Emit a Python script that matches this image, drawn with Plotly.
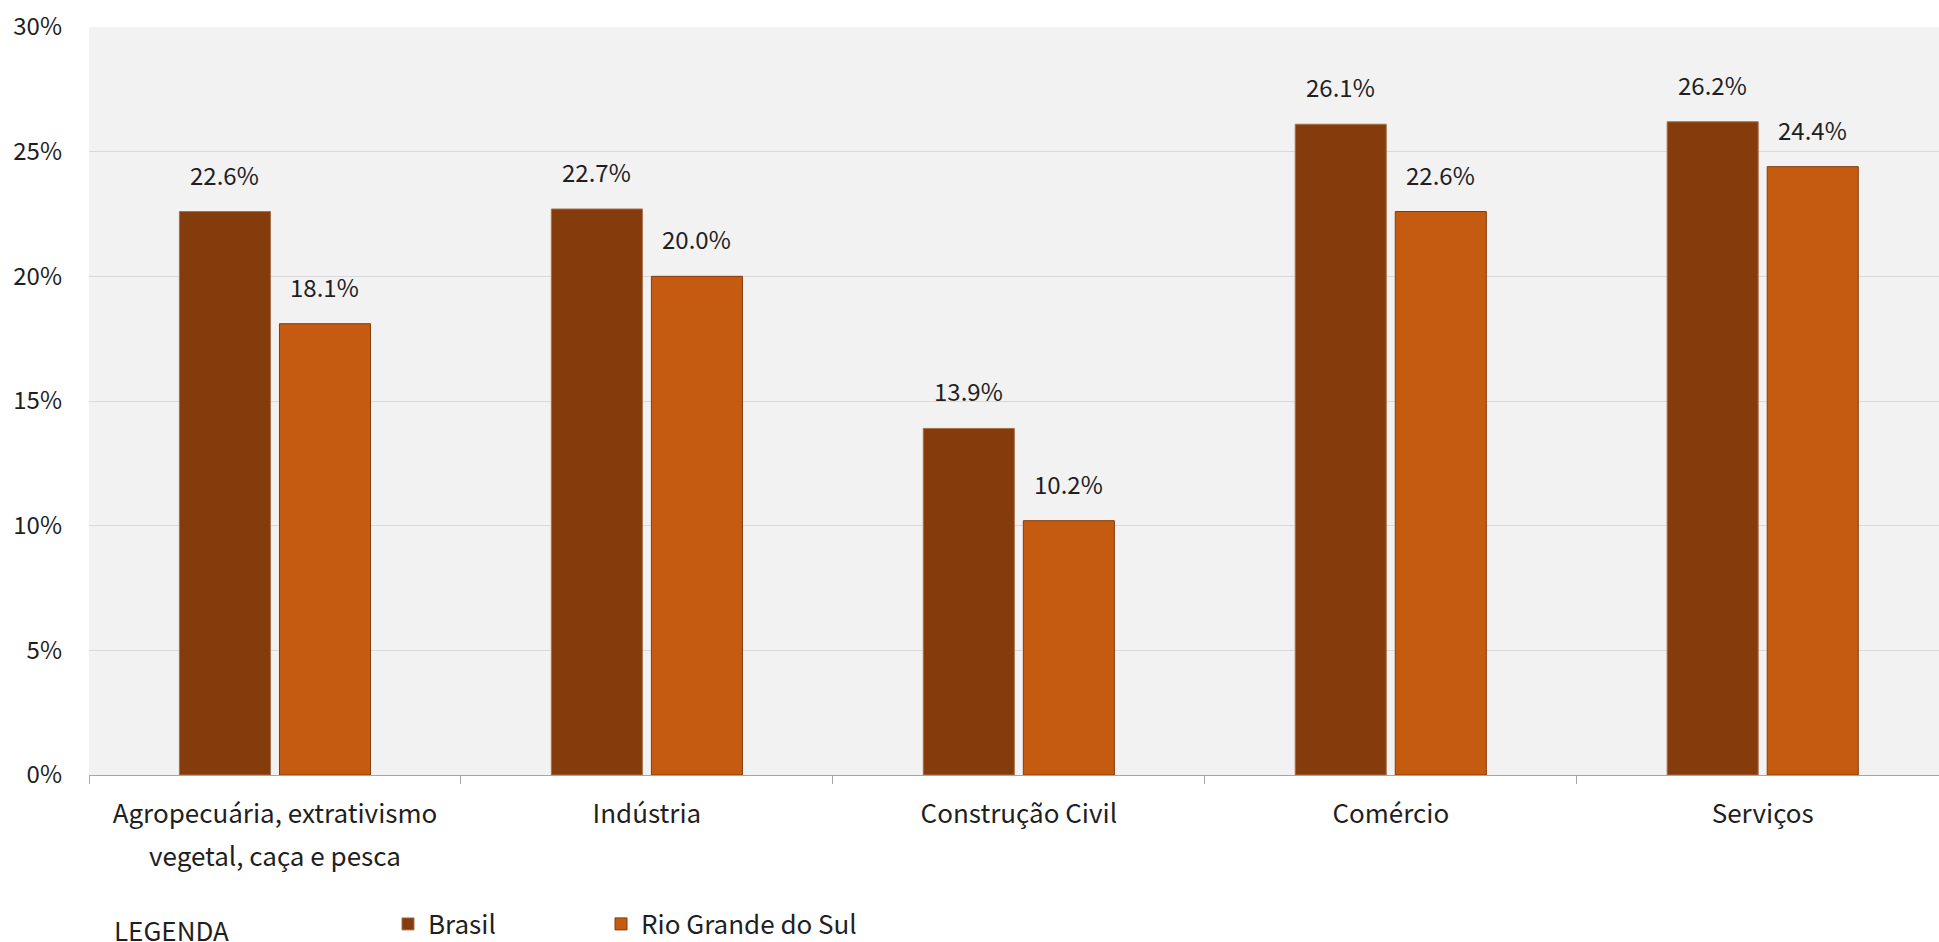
import plotly.graph_objects as go

categories = [
    "Agropecuária, extrativismo<br>vegetal, caça e pesca",
    "Indústria",
    "Construção Civil",
    "Comércio",
    "Serviços",
]
brasil = [22.6, 22.7, 13.9, 26.1, 26.2]
rgs = [18.1, 20.0, 10.2, 22.6, 24.4]
series_names = ["Brasil", "Rio Grande do Sul"]
y_ticks = [0, 5, 10, 15, 20, 25, 30]
y_tick_labels = ["0%", "5%", "10%", "15%", "20%", "25%", "30%"]

FONT = "Noto Sans CJK JP, Noto Sans, sans-serif"
TXT = "#1f1f1f"
C_BR = "#843C0C"
C_RS = "#C55A11"
BARGAP = 0.462
GROUPGAP = 0.09

tick_text = ["<span style='font-size:26px'>%s</span>" % c for c in categories]

fig = go.Figure()
fig.add_trace(go.Bar(x=categories, y=brasil, name=series_names[0], legend="legend",
                     marker=dict(color=C_BR, line=dict(color="#A8704A", width=1))))
fig.add_trace(go.Bar(x=categories, y=rgs, name=series_names[1], legend="legend2",
                     marker=dict(color=C_RS, line=dict(color="#843C0C", width=1))))

slot = (1 - BARGAP) / 2
off = slot / 2
annotations = []
for i in range(len(categories)):
    annotations.append(dict(x=i - off, y=brasil[i], xref="x", yref="y",
                            text="%.1f%%" % brasil[i], showarrow=False,
                            yanchor="bottom", yshift=18,
                            font=dict(family=FONT, size=24, color=TXT)))
    annotations.append(dict(x=i + off, y=rgs[i], xref="x", yref="y",
                            text="%.1f%%" % rgs[i], showarrow=False,
                            yanchor="bottom", yshift=18,
                            font=dict(family=FONT, size=24, color=TXT)))
annotations.append(dict(x=0.0124, y=-0.2059, xref="paper", yref="paper",
                        text="LEGENDA", showarrow=False, xanchor="left",
                        yanchor="middle", height=24, valign="middle",
                        font=dict(family=FONT, size=26, color=TXT)))

leg_common = dict(orientation="h", xref="container", yref="container",
                  xanchor="left", yanchor="middle", y=1 - 924 / 942,
                  font=dict(family=FONT, size=26, color=TXT),
                  bgcolor="rgba(0,0,0,0)")

fig.update_layout(
    width=1939, height=942,
    margin=dict(l=89, r=0, t=27, b=167, autoexpand=False),
    paper_bgcolor="white",
    plot_bgcolor="#F2F2F2",
    barmode="group",
    bargap=BARGAP,
    bargroupgap=GROUPGAP,
    font=dict(family=FONT, size=24, color=TXT),
    showlegend=True,
    legend=dict(x=388 / 1939, **leg_common),
    legend2=dict(x=601 / 1939, **leg_common),
    annotations=annotations,
    xaxis=dict(
        type="category",
        tickmode="array", tickvals=categories, ticktext=tick_text,
        range=[-0.5, 4.474],
        tickson="boundaries", ticks="outside", ticklen=8, tickcolor="#A6A6A6",
        showline=True, linecolor="#A6A6A6", linewidth=1,
        showgrid=False, zeroline=False, automargin=False,
        ticklabelstandoff=7,
        tickfont=dict(family=FONT, size=33, color=TXT),
    ),
    xaxis2=dict(
        type="category", categoryorder="array", categoryarray=categories,
        overlaying="x", anchor="y", side="bottom",
        range=[-0.5, 4.474],
        tickson="boundaries", ticks="inside", ticklen=8, tickcolor="#A6A6A6",
        showticklabels=False, showline=False, showgrid=False, zeroline=False,
        automargin=False,
    ),
    yaxis=dict(
        range=[0, 30], tickmode="array", tickvals=y_ticks, ticktext=y_tick_labels,
        showgrid=True, gridcolor="#D9D9D9", gridwidth=1,
        zeroline=False, showline=False, ticks="", automargin=False,
        ticklabelstandoff=26,
        tickfont=dict(family=FONT, size=24, color=TXT),
    ),
)

fig.write_html("out.html", post_script="document.body.style.margin='0';",
               config={"displayModeBar": False})
